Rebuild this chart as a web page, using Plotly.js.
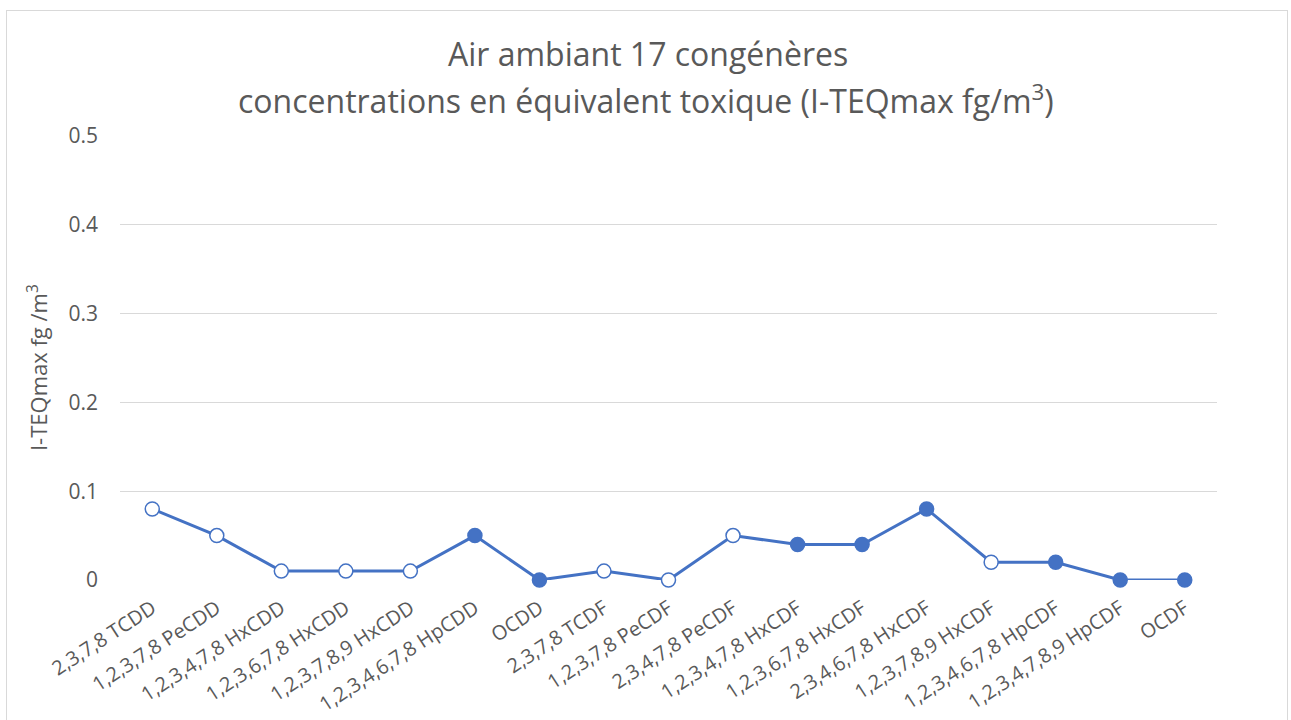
<!DOCTYPE html>
<html>
<head>
<meta charset="utf-8">
<script src="https://cdn.plot.ly/plotly-3.0.1.min.js"></script>
<style>
  html, body { margin: 0; padding: 0; background: #ffffff; overflow: hidden; }
  #frame { position: absolute; left: 6px; top: 10px; width: 1282px; height: 720px; border: 1px solid #d9d9d9; box-sizing: border-box; }
  #chart { position: absolute; left: 0; top: 0; width: 1291px; height: 720px; }
</style>
</head>
<body>
<div id="frame"></div>
<div id="chart"></div>
<script>
const categories = [
  "2,3,7,8 TCDD", "1,2,3,7,8 PeCDD", "1,2,3,4,7,8 HxCDD", "1,2,3,6,7,8 HxCDD",
  "1,2,3,7,8,9 HxCDD", "1,2,3,4,6,7,8 HpCDD", "OCDD", "2,3,7,8 TCDF",
  "1,2,3,7,8 PeCDF", "2,3,4,7,8 PeCDF", "1,2,3,4,7,8 HxCDF", "1,2,3,6,7,8 HxCDF",
  "2,3,4,6,7,8 HxCDF", "1,2,3,7,8,9 HxCDF", "1,2,3,4,6,7,8 HpCDF", "1,2,3,4,7,8,9 HpCDF", "OCDF"
];
const teqValues = [0.08, 0.05, 0.01, 0.01, 0.01, 0.05, 0, 0.01, 0, 0.05, 0.04, 0.04, 0.08, 0.02, 0.02, 0, 0];
// true = filled marker, false = open marker
const filledMarker = [false, false, false, false, false, true, true, false, false, false, true, true, true, false, true, true, true];
const yTickValues = [0, 0.1, 0.2, 0.3, 0.4, 0.5];
const yTickLabels = ["0", "0.1", "0.2", "0.3", "0.4", "0.5"];
const titleLine1 = "Air ambiant 17 congénères";
const titleLine2 = "concentrations en équivalent toxique (I-TEQmax fg/m<sup>3</sup>)";
const yTitle = "I-TEQmax fg /m<sup>3</sup>";

const blue = "#4472C4";
const textGrey = "#595959";
const fontFam = "Open Sans, Liberation Sans, sans-serif";

const trace = {
  type: "scatter",
  mode: "lines+markers",
  x: categories,
  y: teqValues,
  line: { color: blue, width: 3 },
  marker: {
    size: 14,
    symbol: "circle",
    color: filledMarker.map(f => f ? blue : "#ffffff"),
    line: { color: blue, width: 1.5 }
  },
  cliponaxis: false,
  hoverinfo: "x+y"
};

const layout = {
  width: 1291,
  height: 720,
  paper_bgcolor: "rgba(0,0,0,0)",
  plot_bgcolor: "rgba(0,0,0,0)",
  margin: { l: 120, r: 74, t: 136, b: 140 },
  showlegend: false,
  font: { family: fontFam, color: textGrey },
  title: {
    text: titleLine1,
    font: { size: 32, color: textGrey, family: fontFam },
    x: 0.502,
    xref: "container",
    xanchor: "center",
    yref: "container",
    y: 0.924,
    yanchor: "middle"
  },
  annotations: [{
    text: titleLine2,
    xref: "paper",
    yref: "paper",
    x: 0.4795,
    y: 1.084,
    xanchor: "center",
    yanchor: "middle",
    showarrow: false,
    font: { size: 32, color: textGrey, family: fontFam }
  }, {
    text: yTitle,
    xref: "paper",
    yref: "paper",
    x: -0.0747,
    y: 0.4775,
    xanchor: "center",
    yanchor: "middle",
    textangle: -90,
    showarrow: false,
    font: { size: 22, color: textGrey, family: fontFam }
  }],
  xaxis: {
    type: "category",
    range: [-0.5, 16.5],
    tickangle: -33,
    tickfont: { size: 20, color: textGrey, family: fontFam },
    showgrid: false,
    zeroline: false,
    showline: false,
    ticks: "",
    ticklabelstandoff: 12,
    automargin: false,
    fixedrange: true
  },
  yaxis: {
    range: [0, 0.5],
    tickvals: yTickValues,
    ticktext: yTickLabels,
    tickfont: { size: 21, color: textGrey, family: fontFam },
    showgrid: true,
    gridcolor: "#d9d9d9",
    gridwidth: 1.3,
    zeroline: false,
    showline: false,
    ticks: "",
    ticklabelstandoff: 21,
    automargin: false,
    fixedrange: true
  }
};

Plotly.newPlot("chart", [trace], layout, { displayModeBar: false });
</script>
</body>
</html>
